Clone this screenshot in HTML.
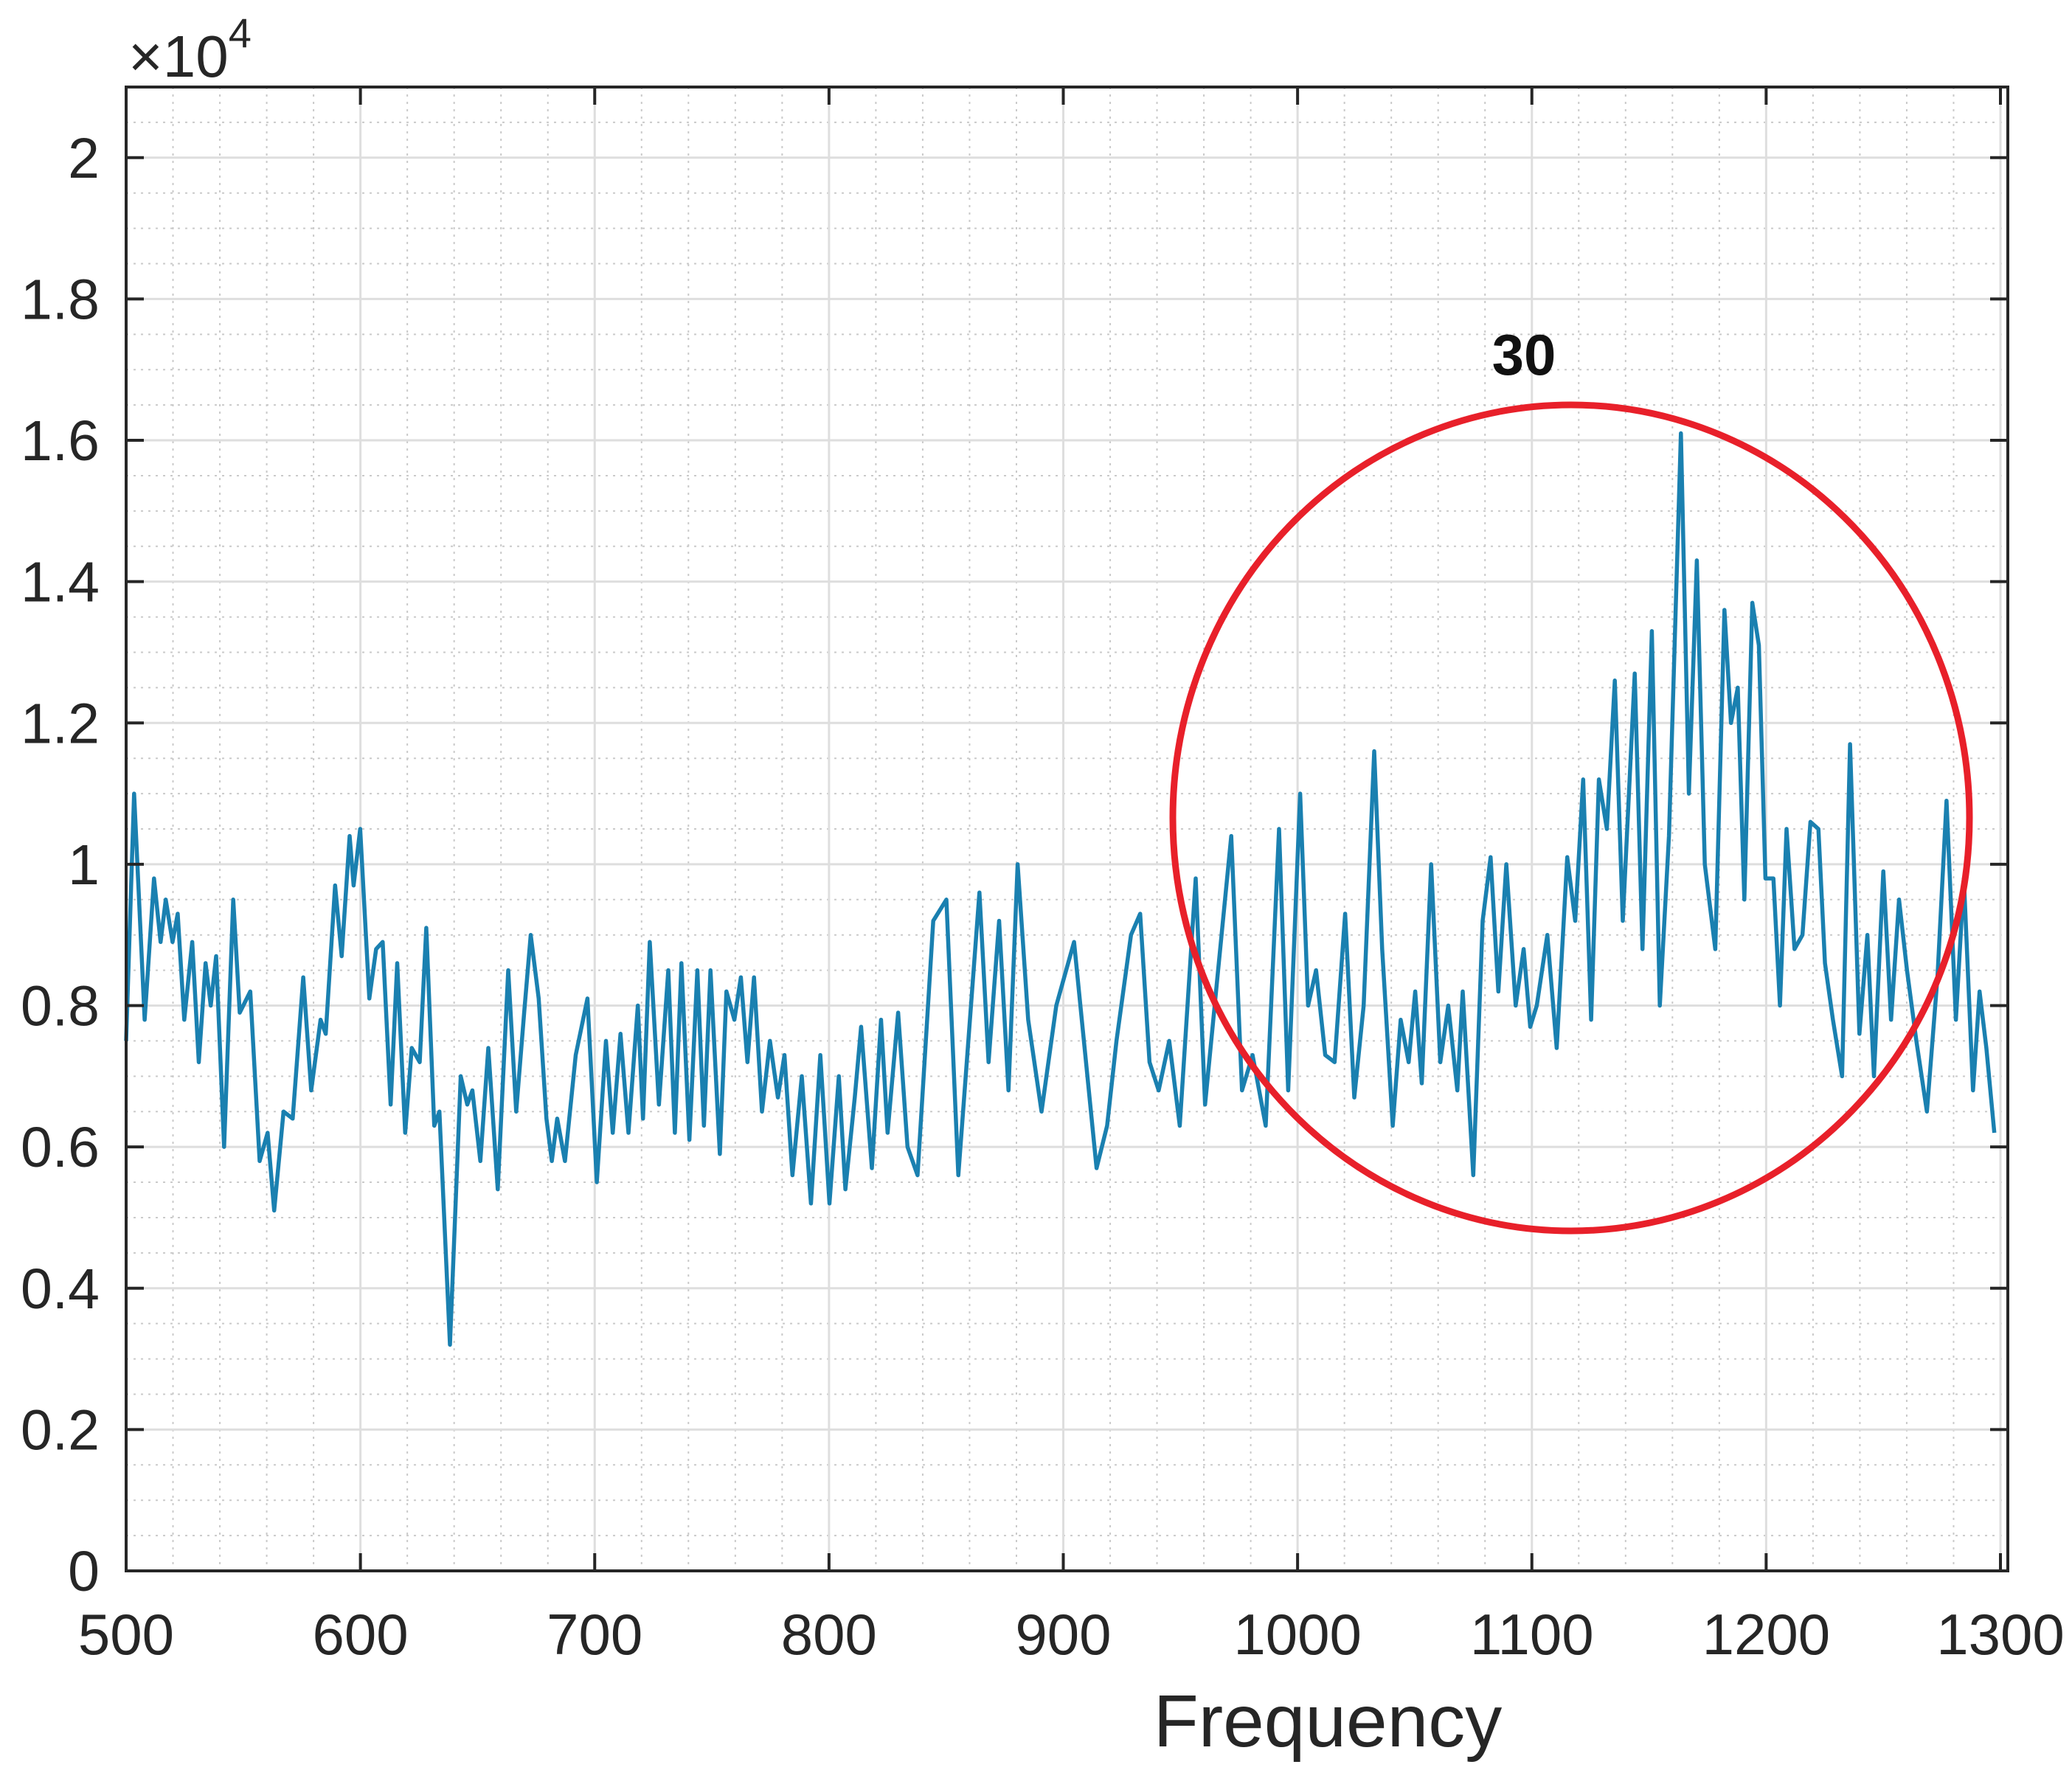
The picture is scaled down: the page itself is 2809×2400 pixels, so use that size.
<!DOCTYPE html>
<html><head><meta charset="utf-8"><style>
html,body{margin:0;padding:0;background:#fff;}
svg{display:block;font-family:"Liberation Sans",Arial,sans-serif;}
</style></head><body>
<svg id="chart" width="2809" height="2400" viewBox="0 0 2809 2400" xmlns="http://www.w3.org/2000/svg">
<rect x="0" y="0" width="2809" height="2400" fill="#fff"/>
<g id="grid"></g>
<g id="series"></g>
<g id="axes"></g>
<ellipse cx="2130" cy="1109" rx="540" ry="560" fill="none" stroke="#e8202a" stroke-width="9"/>
<text x="2066" y="508" font-size="78" font-weight="bold" text-anchor="middle" fill="#111">30</text>
<text x="1800" y="2368" font-size="100" text-anchor="middle" fill="#262626">Frequency</text>
<text x="174" y="104" font-size="80" fill="#262626">×10<tspan font-size="56" dy="-40">4</tspan></text>
</svg>
<script>
const freqs=[500,503.4,507.9,511.9,514.7,516.9,519.8,522,524.8,528.2,531,533.9,536.1,538.4,541.8,545.7,548.5,553,557,560.4,563.2,567.2,571.1,575.6,579,583,585.2,589.2,592,595.4,597.1,599.9,603.8,606.7,609.5,612.9,615.7,619.1,621.9,625.3,628.1,631.5,633.7,638.2,642.8,645.6,647.8,651.2,654.6,658.6,663.1,666.5,669.9,672.7,676.1,679.4,681.7,684,687.3,691.9,696.9,700.9,704.8,707.7,711,714.4,718.4,720.6,723.5,727.4,731.4,734.2,737,740.4,743.8,746.6,749.4,753.4,756.2,759.6,762.4,765.2,768,771.4,774.8,778.2,781,784.4,788.4,792.3,796.3,800.2,804.2,807,811,813.7,818.3,822.2,825,829.5,833.5,837.8,844.5,850.1,855.2,864.2,868.1,872.6,876.6,880.5,885,890.7,897,904.6,914.2,918.7,922.7,928.9,932.8,936.8,940.7,945.2,949.7,956.5,960.5,965.5,971.7,976.3,980.8,986.4,992.1,996,1001.1,1004.5,1007.9,1011.8,1015.8,1020.3,1024.2,1028.2,1032.7,1036.1,1040.6,1044,1047.4,1050.2,1053,1057,1060.9,1064.3,1068.2,1070.5,1075,1079,1082.4,1085.7,1089.1,1093.1,1096.5,1099.3,1102.1,1106.6,1110.6,1115.1,1118.5,1121.9,1125.3,1128.6,1132,1135.4,1138.8,1143.9,1147.2,1151.2,1154.6,1158.5,1163.6,1167,1170.4,1173.8,1178.3,1182.2,1185,1187.9,1190.7,1194.1,1196.9,1199.7,1203.1,1205.9,1208.7,1212.1,1215.5,1218.9,1222.3,1225.1,1228.5,1232.4,1235.8,1239.8,1243.2,1246,1250,1253.3,1256.7,1260.1,1264.1,1268.6,1273.1,1277,1281,1284.4,1288.3,1291.1,1294,1297.4];
const values=[0.75,1.1,0.78,0.98,0.89,0.95,0.89,0.93,0.78,0.89,0.72,0.86,0.80,0.87,0.60,0.95,0.79,0.82,0.58,0.62,0.51,0.65,0.64,0.84,0.68,0.78,0.76,0.97,0.87,1.04,0.97,1.05,0.81,0.88,0.89,0.66,0.86,0.62,0.74,0.72,0.91,0.63,0.65,0.32,0.70,0.66,0.68,0.58,0.74,0.54,0.85,0.65,0.79,0.90,0.81,0.64,0.58,0.64,0.58,0.73,0.81,0.55,0.75,0.62,0.76,0.62,0.80,0.64,0.89,0.66,0.85,0.62,0.86,0.61,0.85,0.63,0.85,0.59,0.82,0.78,0.84,0.72,0.84,0.65,0.75,0.67,0.73,0.56,0.70,0.52,0.73,0.52,0.70,0.54,0.67,0.77,0.57,0.78,0.62,0.79,0.60,0.56,0.92,0.95,0.56,0.96,0.72,0.92,0.68,1.0,0.78,0.65,0.80,0.89,0.57,0.63,0.75,0.90,0.93,0.72,0.68,0.75,0.63,0.98,0.66,0.83,1.04,0.68,0.73,0.63,1.05,0.68,1.1,0.80,0.85,0.73,0.72,0.93,0.67,0.80,1.16,0.88,0.63,0.78,0.72,0.82,0.69,1.0,0.72,0.80,0.68,0.82,0.56,0.92,1.01,0.82,1.0,0.80,0.88,0.77,0.80,0.90,0.74,1.01,0.92,1.12,0.78,1.12,1.05,1.26,0.92,1.27,0.88,1.33,0.80,1.04,1.61,1.10,1.43,1.00,0.88,1.36,1.20,1.25,0.95,1.37,1.31,0.98,0.98,0.80,1.05,0.88,0.90,1.06,1.05,0.86,0.78,0.70,1.17,0.76,0.90,0.70,0.99,0.78,0.95,0.85,0.75,0.65,0.84,1.09,0.78,0.98,0.68,0.82,0.74,0.62];
const xTicks=[500,600,700,800,900,1000,1100,1200,1300];
const xTickLabels=["500","600","700","800","900","1000","1100","1200","1300"];
const yTicks=[0,0.2,0.4,0.6,0.8,1,1.2,1.4,1.6,1.8,2];
const yTickLabels=["0","0.2","0.4","0.6","0.8","1","1.2","1.4","1.6","1.8","2"];

const NS="http://www.w3.org/2000/svg";
const L=171,R=2722,T=118,B=2130;
const X0=500,X1=1303.15,Y0=0,Y1=2.1;
function xs(v){return L+(v-X0)/(X1-X0)*(R-L);}
function ys(v){return B-(v-Y0)/(Y1-Y0)*(B-T);}
function mk(tag,attrs,parent){const e=document.createElementNS(NS,tag);for(const k in attrs)e.setAttribute(k,attrs[k]);parent.appendChild(e);return e;}
const grid=document.getElementById('grid'),axes=document.getElementById('axes'),series=document.getElementById('series');

for(let f=500;f<=1300;f+=20){if(f%100===0)continue;
 const l=mk('line',{x1:xs(f),x2:xs(f),y1:T,y2:B,stroke:'#cacaca','stroke-width':2,'stroke-dasharray':'3 7'},grid);
 
 }
for(let i=1;i<=42;i++){const v=i*0.05;if(Math.abs(v*5-Math.round(v*5))<1e-6)continue;
 const l=mk('line',{x1:L,x2:R,y1:ys(v),y2:ys(v),stroke:'#cacaca','stroke-width':2,'stroke-dasharray':'3 7'},grid);
 
 }
xTicks.forEach(f=>{const l=mk('line',{x1:xs(f),x2:xs(f),y1:T,y2:B,stroke:'#dedede','stroke-width':3},grid);
 
 });
yTicks.forEach(v=>{const l=mk('line',{x1:L,x2:R,y1:ys(v),y2:ys(v),stroke:'#dedede','stroke-width':3},grid);
 
 });

const pts=freqs.map((f,i)=>xs(f).toFixed(1)+','+ys(values[i]).toFixed(1)).join(' ');
const pl=mk('polyline',{points:pts,fill:'none',stroke:'#1a80b0','stroke-width':5.5,'stroke-linejoin':'round'},series);



const box=mk('rect',{x:L,y:T,width:R-L,height:B-T,fill:'none',stroke:'#262626','stroke-width':4},axes);


xTicks.forEach((f,i)=>{
 const t1=mk('line',{x1:xs(f),x2:xs(f),y1:B,y2:B-24,stroke:'#262626','stroke-width':4},axes);
 
 
 const t2=mk('line',{x1:xs(f),x2:xs(f),y1:T,y2:T+24,stroke:'#262626','stroke-width':4},axes);
 
 
 const tx=mk('text',{x:xs(f),y:2243,'font-size':78,'text-anchor':'middle',fill:'#262626'},axes);
 tx.textContent=xTickLabels[i];
 
 });
yTicks.forEach((v,i)=>{
 const t1=mk('line',{x1:L,x2:L+24,y1:ys(v),y2:ys(v),stroke:'#262626','stroke-width':4},axes);
 
 
 const t2=mk('line',{x1:R,x2:R-24,y1:ys(v),y2:ys(v),stroke:'#262626','stroke-width':4},axes);
 
 
 const tx=mk('text',{x:135,y:ys(v)+27,'font-size':77,'text-anchor':'end',fill:'#262626'},axes);
 tx.textContent=yTickLabels[i];
 
 });
</script>
</body></html>
